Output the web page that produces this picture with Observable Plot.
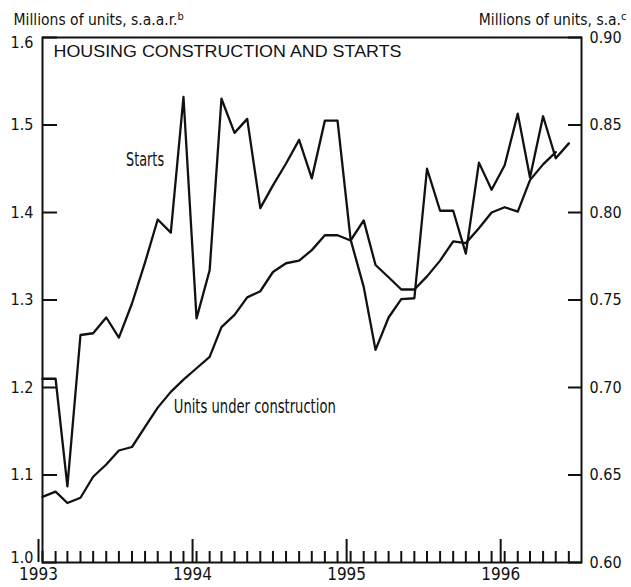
<!DOCTYPE html>
<html>
<head>
<meta charset="utf-8">
<script src="https://cdn.jsdelivr.net/npm/d3@7"></script>
<script src="https://cdn.jsdelivr.net/npm/@observablehq/plot@0.6"></script>
<style>
  body { margin: 0; background: #fff; }
  #chart svg { display: block; }
</style>
</head>
<body>
<div id="chart"></div>
<script>
// ---- Data (monthly, Jan 1993 onward) ----
const firstMonth = new Date(Date.UTC(1993, 0, 1));
const lastEdge = new Date(Date.UTC(1996, 6, 1));

// Housing starts, millions of units, s.a.a.r. (left scale), Jan 1993 - Jun 1996
const starts = [
  1.210, 1.210, 1.087, 1.260, 1.262, 1.280, 1.257, 1.296, 1.343, 1.392, 1.377, 1.532,
  1.279, 1.334, 1.530, 1.491, 1.507, 1.405, 1.431, 1.456, 1.483, 1.439, 1.505, 1.505,
  1.369, 1.315, 1.243, 1.280, 1.301, 1.302, 1.450, 1.402, 1.402, 1.353, 1.457, 1.426,
  1.454, 1.513, 1.440, 1.510, 1.462, 1.479
];

// Units under construction, millions of units, s.a. (right scale), Jan 1993 - May 1996
const underConstruction = [
  0.6375, 0.6405, 0.6340, 0.6370, 0.6490, 0.6560, 0.6640, 0.6660, 0.6775, 0.6885, 0.6975, 0.7045,
  0.7110, 0.7175, 0.7345, 0.7415, 0.7515, 0.7550, 0.7660, 0.7710, 0.7725, 0.7785, 0.7870, 0.7870,
  0.7840, 0.7955, 0.7700, 0.7630, 0.7560, 0.7560, 0.7635, 0.7725, 0.7835, 0.7825, 0.7910, 0.8000,
  0.8030, 0.8005, 0.8185, 0.8275, 0.8345
];

const leftTicks = [1.0, 1.1, 1.2, 1.3, 1.4, 1.5, 1.6];
const rightTicks = [0.60, 0.65, 0.70, 0.75, 0.80, 0.85, 0.90];
const yearTicks = [1993, 1994, 1995, 1996];

const titleText = "HOUSING CONSTRUCTION AND STARTS";
const leftAxisTitle = "Millions of units, s.a.a.r.";
const rightAxisTitle = "Millions of units, s.a.";
const startsLabel = {text: "Starts", date: new Date(Date.UTC(1993, 8, 1)), value: 1.46};
const ucLabel = {text: "Units under construction", date: new Date(Date.UTC(1993, 10, 8)), value: 1.178};

// ---- Build tables ----
const months = d3.utcMonth.range(firstMonth, lastEdge);
const startsData = starts.map((v, i) => ({date: months[i], value: v}));
const ucData = underConstruction.map((v, i) => ({date: months[i], value: v}));
const rightToLeft = v => 1 + (v - 0.6) * 2;
const leftToRight = v => 0.6 + (v - 1) / 2;
const yearDates = yearTicks.map(y => new Date(Date.UTC(y, 0, 1)));
const innerLeft = leftTicks.slice(1, -1);

const narrow = "'Liberation Sans Narrow', 'Arial Narrow', 'DejaVu Sans Condensed', sans-serif";
const leftFmt = d => d.toFixed(1);

const chart = Plot.plot({
  width: 631,
  height: 587,
  marginLeft: 42,
  marginRight: 50,
  marginTop: 37,
  marginBottom: 25,
  style: {fontFamily: narrow, fontSize: "16px", color: "#111", background: "#fff"},
  x: {type: "utc", domain: [firstMonth, lastEdge]},
  y: {domain: [1.0, 1.6]},
  marks: [
    Plot.frame({stroke: "#111", strokeWidth: 2}),
    // left axis: ticks, then labels (end labels nudged inward as in the original)
    Plot.axisY(leftTicks, {anchor: "left", tickSize: -15, strokeWidth: 2, text: null, label: null}),
    Plot.axisY(innerLeft, {anchor: "left", tickSize: 0, tickPadding: 9, tickFormat: leftFmt, label: null, fontSize: 16}),
    Plot.axisY([leftTicks[0]], {anchor: "left", tickSize: 0, tickPadding: 9, tickFormat: leftFmt, label: null, fontSize: 16, dy: -5}),
    Plot.axisY([leftTicks[leftTicks.length - 1]], {anchor: "left", tickSize: 0, tickPadding: 9, tickFormat: leftFmt, label: null, fontSize: 16, dy: 5}),
    // right axis (mapped onto same vertical scale)
    Plot.axisY(rightTicks.map(rightToLeft), {anchor: "right", tickSize: -14, tickPadding: 22, strokeWidth: 2,
      tickFormat: d => leftToRight(d).toFixed(2), label: null, fontSize: 16}),
    // monthly ticks
    Plot.axisX(months, {anchor: "bottom", tickSize: -11, strokeWidth: 2, tickFormat: () => "", label: null}),
    // year ticks with labels
    Plot.axisX(yearDates, {anchor: "bottom", tickSize: -23, tickPadding: 28, strokeWidth: 2,
      tickFormat: d3.utcFormat("%Y"), label: null, fontSize: 17, dx: -4}),
    // series
    Plot.line(startsData, {x: "date", y: "value", stroke: "#111", strokeWidth: 2.3}),
    Plot.line(ucData, {x: "date", y: d => rightToLeft(d.value), stroke: "#111", strokeWidth: 2.3}),
    // series labels
    Plot.text([startsLabel], {x: "date", y: "value", text: "text", textAnchor: "middle", fontSize: 19, fill: "#111"}),
    Plot.text([ucLabel], {x: "date", y: "value", text: "text", textAnchor: "start", fontSize: 19, fill: "#111"}),
    // in-panel title
    Plot.text([titleText], {frameAnchor: "top-left", dx: 11, dy: 8, lineAnchor: "top", textAnchor: "start",
      fontFamily: "'Liberation Sans', Arial, sans-serif", fontSize: 16.5, fill: "#111"}),
    // axis titles
    Plot.text([leftAxisTitle], {frameAnchor: "top-left", dx: -29, dy: -24, lineAnchor: "top", textAnchor: "start",
      fontSize: 15.5, fill: "#111"}),
    Plot.text([rightAxisTitle], {frameAnchor: "top-right", dx: 45, dy: -24, lineAnchor: "top", textAnchor: "end",
      fontSize: 15.5, fill: "#111"})
  ]
});

// condensed widths to match the original typeface, and footnote superscripts
const widths = {};
widths[startsLabel.text] = 38;
widths[ucLabel.text] = 162;
widths[titleText] = 348;
d3.select(chart).selectAll("text").each(function () {
  const t = this.textContent;
  const sel = d3.select(this);
  if (widths[t]) {
    sel.attr("textLength", widths[t]).attr("lengthAdjust", "spacingAndGlyphs");
  } else if (t === leftAxisTitle) {
    sel.append("tspan").attr("dy", "-0.45em").attr("font-size", 11).text("b");
  } else if (t === rightAxisTitle) {
    sel.append("tspan").attr("dy", "-0.45em").attr("font-size", 11).text("c");
  }
});

document.getElementById("chart").appendChild(chart);
</script>
</body>
</html>
